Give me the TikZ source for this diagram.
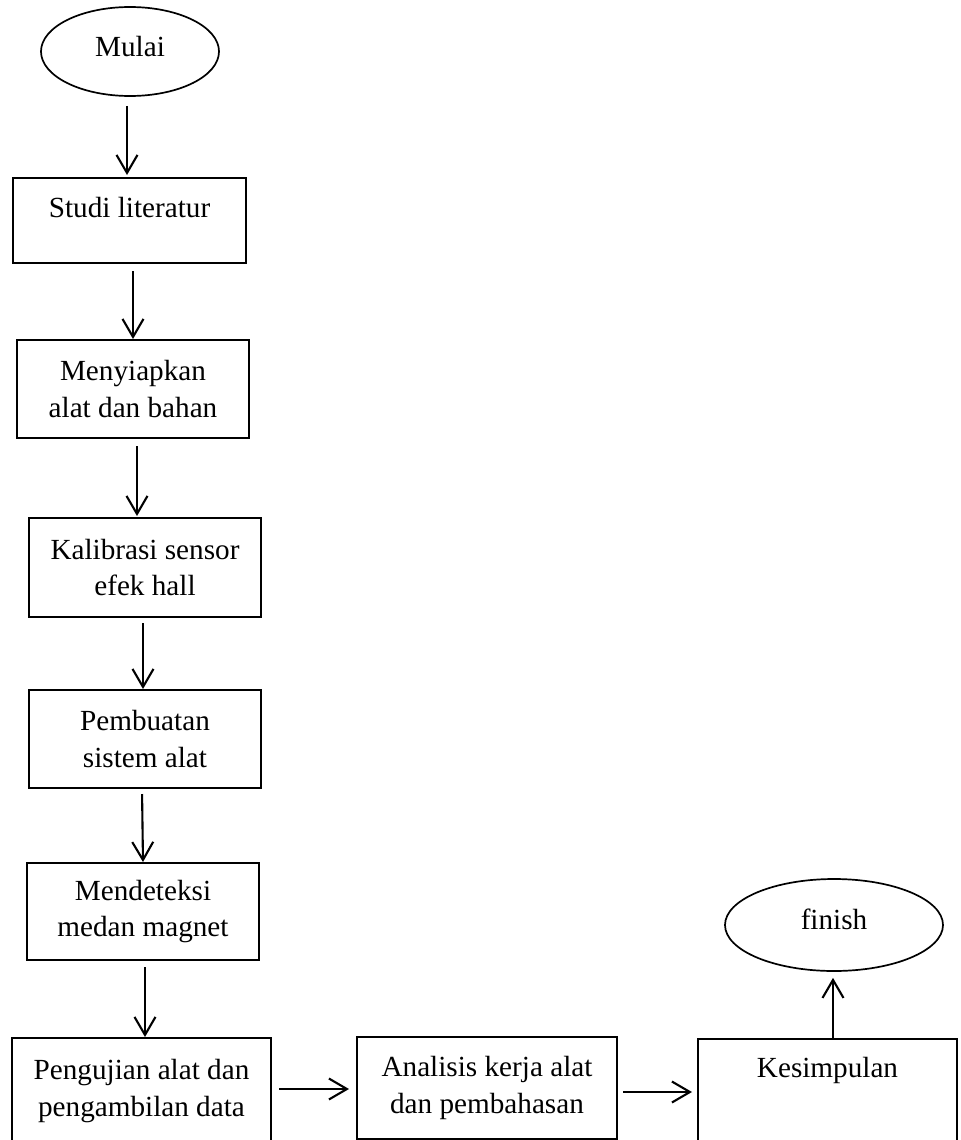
\documentclass[tikz,border=0pt]{standalone}
\usepackage{fontspec}
\setmainfont{Liberation Serif}
\usetikzlibrary{arrows.meta,calc,shapes.geometric}
\begin{document}
\begin{tikzpicture}[x=0.5pt,y=-0.5pt,
  every node/.style={font=\fontsize{14.6pt}{18.3pt}\selectfont},
  box/.style={draw,line width=1pt,rectangle,inner sep=0pt,align=center},
  oval/.style={draw,line width=0.85pt,ellipse,inner sep=0pt},
  arr/.style={line width=1.05pt,-{Straight Barb[length=9pt,width=10.5pt]}}]
\useasboundingbox (0,0) rectangle (960,1140);
\fill[white] (0,0) rectangle (960,1140);

\node[oval,minimum width=89pt,minimum height=44.5pt,text height=10pt,text depth=5pt] (mulai) at (130,51.5) {Mulai};
\node[box,minimum width=116.5pt,text height=19.5pt,text depth=23pt] (studi) at (129.5,220.5) {Studi literatur};
\node[box,minimum width=116pt,minimum height=49pt] (siap) at (133,389) {Menyiapkan\\alat dan bahan};
\node[box,minimum width=116pt,minimum height=49.5pt] (kalib) at (145,567.5) {Kalibrasi sensor\\efek hall};
\node[box,minimum width=116pt,minimum height=49pt] (buat) at (145,739) {Pembuatan\\sistem alat};
\node[box,minimum width=116pt,minimum height=48.5pt] (deteksi) at (143,911.5) {Mendeteksi\\medan magnet};
\node[box,minimum width=129.5pt,minimum height=53pt] (uji) at (141.5,1091) {Pengujian alat dan\\pengambilan data};
\node[box,minimum width=130pt,minimum height=51pt] (analisis) at (487,1088) {Analisis kerja alat\\dan pembahasan};
\node[box,minimum width=129.5pt,text height=19pt,text depth=33.5pt] (simpul) at (827.5,1091.5) {Kesimpulan};
\node[oval,minimum width=109pt,minimum height=46pt,text height=10pt,text depth=6pt] (finish) at (834,925) {finish};

\draw[arr,shorten <=4.5pt,shorten >=1pt] ($(mulai.south)+(-3,0)$) -- ($(studi.north)+(-2.5,0)$);
\draw[arr,shorten <=3.5pt] ($(studi.south)+(3.5,0)$) -- (siap.north);
\draw[arr,shorten <=3.5pt,shorten >=0.5pt] ($(siap.south)+(4,0)$) -- ($(kalib.north)+(-8,0)$);
\draw[arr,shorten <=2.5pt] ($(kalib.south)+(-2,0)$) -- ($(buat.north)+(-2,0)$);
\draw[arr,shorten <=2.5pt] ($(buat.south)+(-3,0)$) -- (deteksi.north);
\draw[arr,shorten <=3pt] ($(deteksi.south)+(2,0)$) -- ($(uji.north)+(3.5,0)$);
\draw[arr,shorten <=3.5pt,shorten >=3.5pt] ($(uji.east)+(0,-2)$) -- ($(analisis.west)+(0,1)$);
\draw[arr,shorten <=2.5pt,shorten >=2.5pt] ($(analisis.east)+(0,4)$) -- ($(simpul.west)+(0,0.5)$);
\draw[arr,shorten >=3pt] ($(simpul.north)+(5.5,0)$) -- ($(finish.south)+(-1,0)$);
\end{tikzpicture}
\end{document}
